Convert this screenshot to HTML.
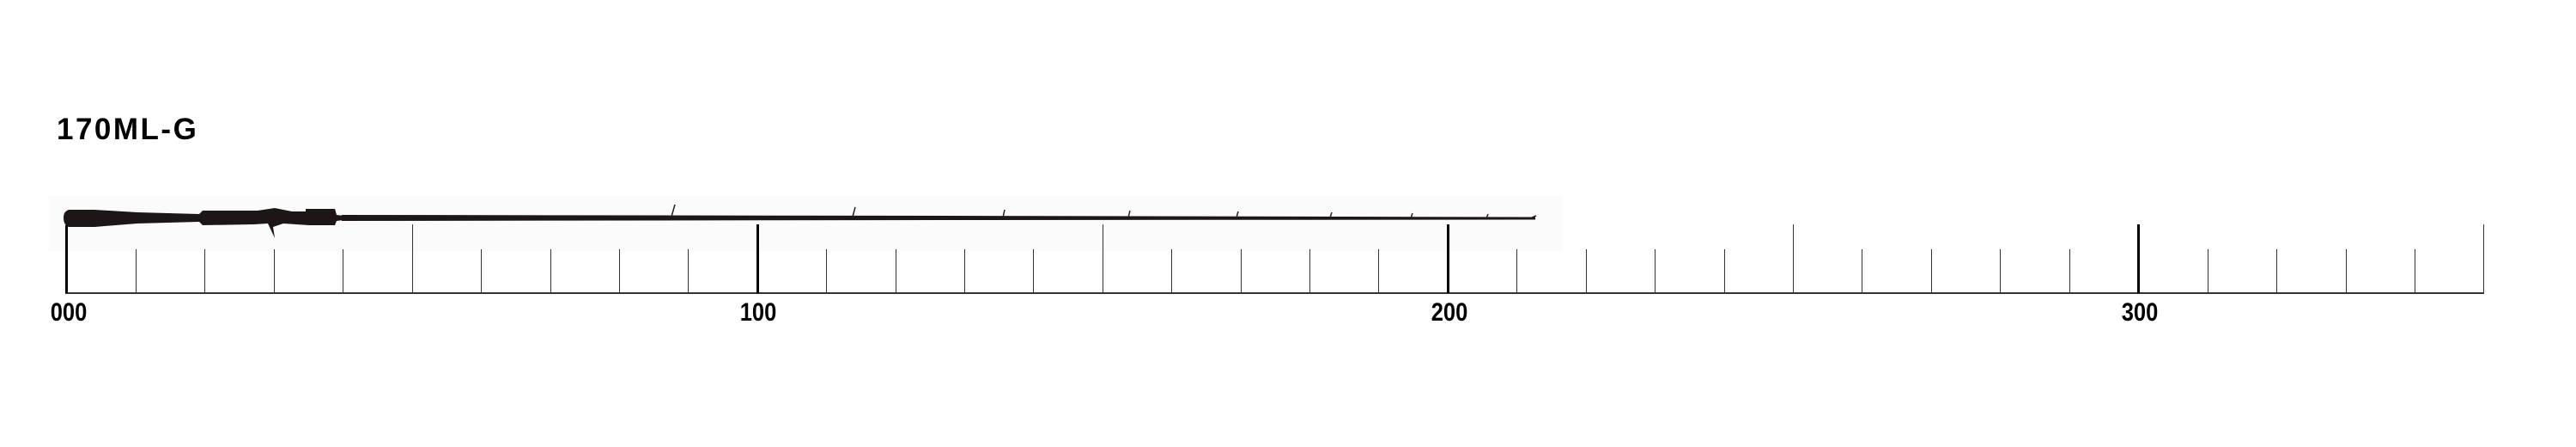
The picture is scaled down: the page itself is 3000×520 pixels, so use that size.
<!DOCTYPE html>
<html><head><meta charset="utf-8"><style>
html,body{margin:0;padding:0;background:#fff;}
svg{display:block}
</style></head><body>
<svg width="3000" height="520" viewBox="0 0 3000 520" xmlns="http://www.w3.org/2000/svg">
<rect width="3000" height="520" fill="#fff"/>
<rect x="57" y="228" width="1762" height="64" fill="#fbfbfb"/>
<text x="66" y="162" font-family="Liberation Sans, sans-serif" font-weight="bold" font-size="35" fill="#000" letter-spacing="2.5">170ML-G</text>
<rect x="76" y="340" width="2817" height="2" fill="#333"/>
<g fill="#1d1516">
<path d="M80 244 Q74 246 74 253 Q74 262 80 264 L110 264 L160 260 L232 258 L236 262 L296 261 L312 260 L320 277 L318 264 L330 260 L360 262 L375 262 L390 262 L392 257 L400 256 L400 251 L392 250 L390 243 L356 243 L356 246 L340 246 L320 242 L300 245 L236 245 L232 249 L160 247 L110 244 Z"/>
<path d="M398 250 L1100 251 L1788 252.5 L1788 255.5 L1100 256 L398 257 Z"/>
</g>
<g stroke="#2a1f1f" stroke-width="1.5" fill="none">
<path d="M782 252 L786 238"/><path d="M993 252 L996 241"/><path d="M1168 253 L1170 244"/>
<path d="M1314 253 L1316 245"/><path d="M1440 253 L1442 246"/><path d="M1549 253 L1551 247"/>
<path d="M1643 254 L1645 248"/><path d="M1731 254 L1733 249"/><path d="M1782 254 L1789 251"/>
</g>
<g font-family="Liberation Sans, sans-serif" font-weight="bold" font-size="30" fill="#000" text-anchor="middle">
<text x="80" y="373" transform="translate(80 0) scale(0.85 1) translate(-80 0)">000</text>
<text x="883" y="373" transform="translate(883 0) scale(0.85 1) translate(-883 0)">100</text>
<text x="1688" y="373" transform="translate(1688 0) scale(0.85 1) translate(-1688 0)">200</text>
<text x="2492" y="373" transform="translate(2492 0) scale(0.85 1) translate(-2492 0)">300</text>
</g>
<g fill="#333">
<rect x="76" y="262" width="3" height="79" fill="#000"/>
<rect x="158" y="290" width="1" height="51"/>
<rect x="238" y="290" width="1" height="51"/>
<rect x="319" y="290" width="1" height="51"/>
<rect x="399" y="290" width="1" height="51"/>
<rect x="480" y="261" width="1" height="80"/>
<rect x="560" y="290" width="1" height="51"/>
<rect x="641" y="290" width="1" height="51"/>
<rect x="721" y="290" width="1" height="51"/>
<rect x="801" y="290" width="1" height="51"/>
<rect x="881" y="261" width="3" height="80" fill="#000"/>
<rect x="962" y="290" width="1" height="51"/>
<rect x="1043" y="290" width="1" height="51"/>
<rect x="1123" y="290" width="1" height="51"/>
<rect x="1203" y="290" width="1" height="51"/>
<rect x="1284" y="261" width="1" height="80"/>
<rect x="1364" y="290" width="1" height="51"/>
<rect x="1445" y="290" width="1" height="51"/>
<rect x="1525" y="290" width="1" height="51"/>
<rect x="1605" y="290" width="1" height="51"/>
<rect x="1685" y="261" width="3" height="80" fill="#000"/>
<rect x="1766" y="290" width="1" height="51"/>
<rect x="1847" y="290" width="1" height="51"/>
<rect x="1927" y="290" width="1" height="51"/>
<rect x="2008" y="290" width="1" height="51"/>
<rect x="2088" y="261" width="1" height="80"/>
<rect x="2168" y="290" width="1" height="51"/>
<rect x="2249" y="290" width="1" height="51"/>
<rect x="2329" y="290" width="1" height="51"/>
<rect x="2410" y="290" width="1" height="51"/>
<rect x="2489" y="261" width="3" height="80" fill="#000"/>
<rect x="2571" y="290" width="1" height="51"/>
<rect x="2651" y="290" width="1" height="51"/>
<rect x="2732" y="290" width="1" height="51"/>
<rect x="2812" y="290" width="1" height="51"/>
<rect x="2892" y="261" width="1" height="80"/>
</g>
</svg>
</body></html>
